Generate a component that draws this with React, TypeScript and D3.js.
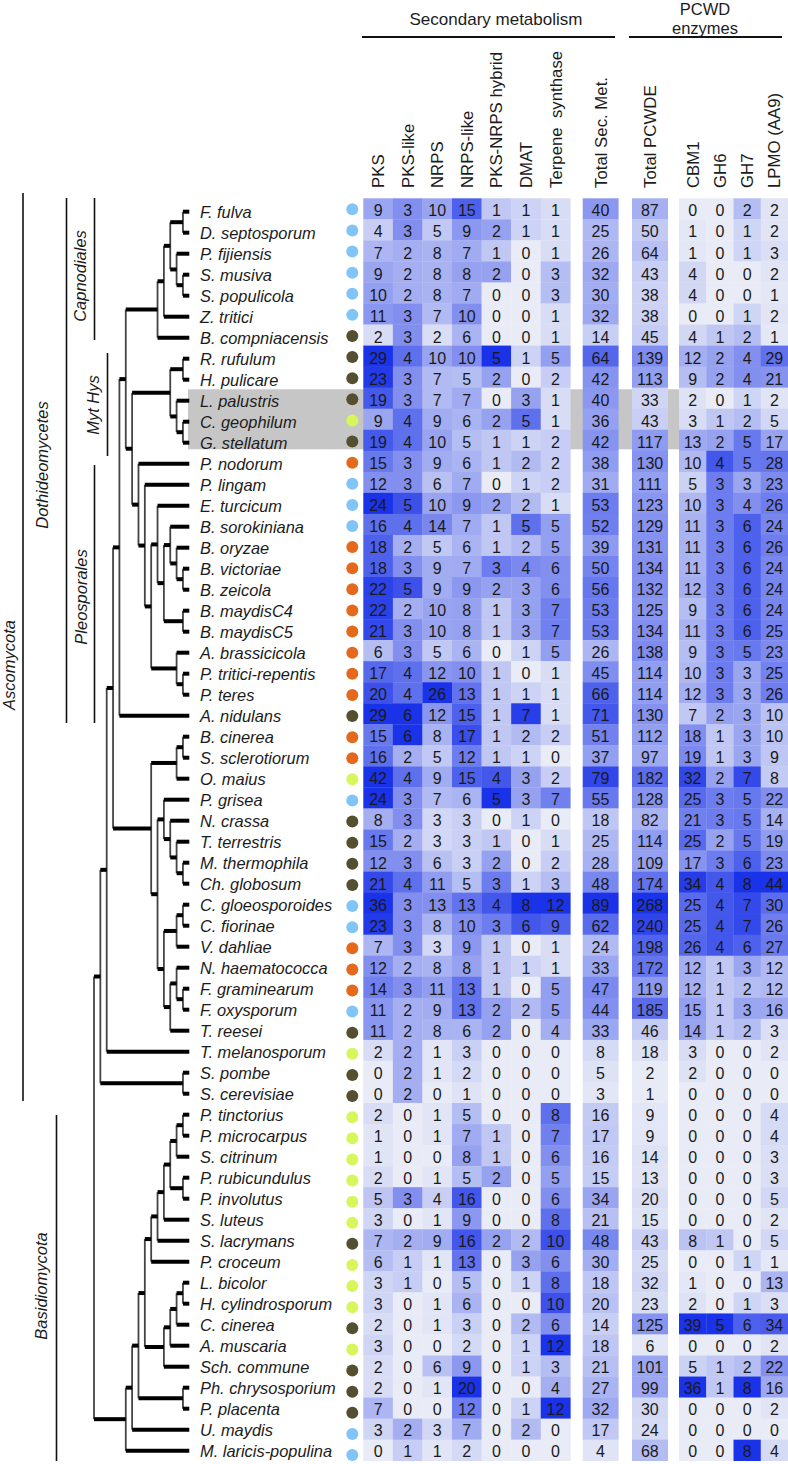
import React from "react";
import * as d3 from "d3";

const species = [
  "F. fulva", "D. septosporum", "P. fijiensis", "S. musiva", "S. populicola", "Z. tritici",
  "B. compniacensis", "R. rufulum", "H. pulicare", "L. palustris", "C. geophilum", "G. stellatum",
  "P. nodorum", "P. lingam", "E. turcicum", "B. sorokiniana", "B. oryzae", "B. victoriae",
  "B. zeicola", "B. maydisC4", "B. maydisC5", "A. brassicicola", "P. tritici-repentis", "P. teres",
  "A. nidulans", "B. cinerea", "S. sclerotiorum", "O. maius", "P. grisea", "N. crassa",
  "T. terrestris", "M. thermophila", "Ch. globosum", "C. gloeosporoides", "C. fiorinae", "V. dahliae",
  "N. haematococca", "F. graminearum", "F. oxysporum", "T. reesei", "T. melanosporum", "S. pombe",
  "S. cerevisiae", "P. tinctorius", "P. microcarpus", "S. citrinum", "P. rubicundulus", "P. involutus",
  "S. luteus", "S. lacrymans", "P. croceum", "L. bicolor", "H. cylindrosporum", "C. cinerea",
  "A. muscaria", "Sch. commune", "Ph. chrysosporium", "P. placenta", "U. maydis", "M. laricis-populina",
];

// b = blue, d = dark, l = lime, o = orange
const lifestyle = "bbbbbbdddd" + "ldobbboooo" + "oooodoolbd" + "dddbbooobd" + "lddlllllld" + "llldldddbb";

// gene counts, one array per column, same order as species
const pks = [9,4,7,9,10,11,2,29,23,19,9,19,15,12,24,16,18,18,22,22,21,6,17,20,29,15,16,42,24,8,15,12,21,36,23,7,12,14,11,11,2,0,0,2,1,1,2,5,3,7,6,3,3,2,3,2,2,7,3,0];
const pksLike = [3,3,2,2,2,3,3,4,3,3,4,4,3,3,5,4,2,3,5,2,3,3,4,4,6,6,2,4,3,3,2,3,4,3,3,3,2,3,2,2,2,2,2,0,0,0,0,3,0,2,1,1,0,0,0,0,0,0,2,1];
const nrps = [10,5,8,8,8,7,2,10,7,7,9,10,9,6,10,14,5,9,9,10,10,5,12,26,12,8,5,9,7,3,3,6,11,13,8,3,8,11,9,8,1,1,0,1,1,0,1,4,1,9,1,0,1,1,0,6,1,0,3,1];
const nrpsLike = [15,9,7,8,7,10,6,10,5,7,6,5,6,7,9,7,6,7,9,8,8,6,10,13,15,17,12,15,6,3,3,3,5,13,10,9,8,13,13,6,3,2,1,5,7,8,5,16,9,16,13,5,6,3,2,9,20,12,7,2];
const hybrid = [1,2,1,2,0,0,0,5,2,0,2,1,1,0,2,1,1,3,2,1,1,0,1,1,1,1,1,4,5,0,1,2,3,4,3,1,1,1,2,2,0,0,0,0,1,1,2,0,0,2,0,0,0,0,0,0,0,0,0,0];
const dmat = [1,1,0,0,0,0,0,1,0,3,5,1,2,1,2,5,2,4,3,3,3,1,0,1,7,2,1,3,3,1,0,0,1,8,6,0,1,0,2,0,0,0,0,0,0,0,0,0,0,2,3,1,0,2,1,1,0,1,2,0];
const terpene = [1,1,1,3,3,1,1,5,2,1,1,2,2,2,1,5,5,6,6,7,7,5,1,1,1,2,0,2,7,0,1,2,3,12,9,1,1,5,5,4,0,0,0,8,7,6,5,6,8,10,6,8,10,6,12,3,4,12,0,0];
const totalSec = [40,25,26,32,30,32,14,64,42,40,36,42,38,31,53,52,39,50,56,53,53,26,45,66,71,51,37,79,55,18,25,28,48,89,62,24,33,47,44,33,8,5,3,16,17,16,15,34,21,48,30,18,20,14,18,21,27,32,17,4];
const totalPcwde = [87,50,64,43,38,38,45,139,113,33,43,117,130,111,123,129,131,134,132,125,134,138,114,114,130,112,97,182,128,82,114,109,174,268,240,198,172,119,185,46,18,2,1,9,9,14,13,20,15,43,25,32,23,125,6,101,99,30,24,68];
const cbm1 = [0,1,1,4,4,0,4,12,9,2,3,13,10,5,10,11,11,11,12,9,11,9,10,12,7,18,19,32,25,21,25,17,34,25,25,26,12,12,15,14,3,2,0,0,0,0,0,0,0,8,0,1,2,39,0,5,36,0,0,0];
const gh6 = [0,0,0,0,0,0,1,2,2,0,1,2,4,3,3,3,3,3,3,3,3,3,3,3,2,1,1,2,3,3,2,3,4,4,4,4,1,1,1,1,0,0,0,0,0,0,0,0,0,1,0,0,0,5,0,1,1,0,0,0];
const gh7 = [2,1,1,0,0,1,2,4,4,1,2,5,5,3,4,6,6,6,6,6,6,5,3,3,3,3,3,7,5,5,5,6,8,7,7,6,3,2,3,2,0,0,0,0,0,0,0,0,0,0,1,0,1,6,0,2,8,0,0,8];
const lpmo = [2,2,3,2,1,2,1,29,21,2,5,17,28,23,26,24,26,24,24,24,25,23,25,26,10,10,9,8,22,14,19,23,44,30,26,27,12,12,16,3,2,0,0,4,4,3,3,5,2,5,1,13,3,34,2,22,16,2,0,4];

const secLabels = ["PKS", "PKS-like", "NRPS", "NRPS-like", "PKS-NRPS hybrid", "DMAT", "Terpene  synthase"];
const pcwdLabels = ["CBM1", "GH6", "GH7", "LPMO (AA9)"];

// value at which each column reaches full colour
const secColumns = [pks, pksLike, nrps, nrpsLike, hybrid, dmat, terpene];
const secFull = [24, 6, 26, 20, 5, 7.5, 12];
const pcwdColumns = [cbm1, gh6, gh7, lpmo];
const pcwdFull = [36, 5, 8, 44];

// tree: [level, child, child], a string is a leaf
const tree: any = [15,
  [14,
    [13,
      [12,
        [11,
          [10,
            [5, [4, [3, [1, "F. fulva", "D. septosporum"], [2, "P. fijiensis", [1, "S. musiva", "S. populicola"]]], "Z. tritici"], "B. compniacensis"],
            [9,
              [3, [1, "R. rufulum", "H. pulicare"], [2, "L. palustris", [1, "C. geophilum", "G. stellatum"]]],
              [8, "P. nodorum", [7, "P. lingam", [6,
                [5, "E. turcicum", [4, [3, "B. sorokiniana", [2, "B. oryzae", [1, "B. victoriae", "B. zeicola"]]], [1, "B. maydisC4", "B. maydisC5"]]],
                [2, "A. brassicicola", [1, "P. tritici-repentis", "P. teres"]],
              ]]],
            ],
          ],
          "A. nidulans",
        ],
        [6,
          [2, [1, "B. cinerea", "S. sclerotiorum"], "O. maius"],
          [5,
            [4, "P. grisea", [3, "N. crassa", [2, "T. terrestris", [1, "M. thermophila", "Ch. globosum"]]]],
            [4, [2, [1, "C. gloeosporoides", "C. fiorinae"], "V. dahliae"], [3, [2, "N. haematococca", [1, "F. graminearum", "F. oxysporum"]], "T. reesei"]],
          ],
        ],
      ],
      "T. melanosporum",
    ],
    [1, "S. pombe", "S. cerevisiae"],
  ],
  [10,
    [9,
      [8,
        [7,
          [6, [5, [4, [3, [2, [1, "P. tinctorius", "P. microcarpus"], "S. citrinum"], [1, "P. rubicundulus", "P. involutus"]], "S. luteus"], "S. lacrymans"], "P. croceum"],
          [4, [3, [2, [1, "L. bicolor", "H. cylindrosporum"], "C. cinerea"], "A. muscaria"], "Sch. commune"],
        ],
        [1, "Ph. chrysosporium", "P. placenta"],
      ],
      "U. maydis",
    ],
    "M. laricis-populina",
  ],
];

const clades = [
  { name: "Ascomycota", x: 23, y0: 193, y1: 1101, tx: 9, ty: 665 },
  { name: "Dothideomycetes", x: 66.5, y0: 198, y1: 723, tx: 42, ty: 465 },
  { name: "Capnodiales", x: 94.5, y0: 198, y1: 340, tx: 80, ty: 276 },
  { name: "Myt Hys", x: 107.5, y0: 353, y1: 456, tx: 93, ty: 405 },
  { name: "Pleosporales", x: 94.5, y0: 465, y1: 723, tx: 81, ty: 597 },
  { name: "Basidiomycota", x: 56.5, y0: 1115, y1: 1461, tx: 41, ty: 1286 },
];

const dotColor: Record<string, string> = { b: "#80c4f8", d: "#544f30", l: "#d6f65c", o: "#e4691c" };
const FONT = "'Liberation Sans', Arial, sans-serif";
const cellColor = d3.interpolateRgb("#e9ecf6", "#1a32e8");

const rowY = d3.scaleBand<string>().domain(species).range([198.3, 1460.7]);
const labelY = d3.scalePoint<string>().domain(species).range([211.7, 1450.7]);
const valueY = d3.scalePoint<string>().domain(species).range([210.7, 1451.7]);
const dotY = d3.scalePoint<string>().domain(species).range([209.3, 1455]);
const levelX = d3.scaleLinear().domain([0, 15]).range([189.3, 94]);

const secX = d3.scaleBand<string>().domain(secLabels).range([363.3, 570.3]);
const totalSecX = d3.scaleBand<string>().domain(["Total Sec. Met."]).range([582.7, 618.3]);
const totalPcwdeX = d3.scaleBand<string>().domain(["Total PCWDE"]).range([632, 667.7]);
const pcwdX = d3.scaleBand<string>().domain(pcwdLabels).range([679, 788]);

const blocks = [
  ...secLabels.map((l, i) => ({ label: l, x: secX, values: secColumns[i], full: secFull[i] })),
  { label: "Total Sec. Met.", x: totalSecX, values: totalSec, full: 89 },
  { label: "Total PCWDE", x: totalPcwdeX, values: totalPcwde, full: 268 },
  ...pcwdLabels.map((l, i) => ({ label: l, x: pcwdX, values: pcwdColumns[i], full: pcwdFull[i] })),
];

const root = d3.hierarchy<any>(tree, (d) => (Array.isArray(d) ? d.slice(1) : null));
const nodeY = new Map<any, number>();
root.eachAfter((n) => {
  if (n.children) {
    nodeY.set(n, (nodeY.get(n.children[0])! + nodeY.get(n.children[n.children.length - 1])!) / 2);
  } else {
    nodeY.set(n, labelY(n.data)!);
  }
});
const nodeX = (n: any) => levelX(n.children ? n.data[0] : 0);

const App = () => {
  const nodes = root.descendants();
  return (
    <svg
      width={788}
      height={1464}
      style={{ position: "absolute", left: 0, top: 0, background: "#fff" }}
      fontFamily={FONT}
    >
      <rect x={188} y={389.3} width={491} height={60} fill="#c6c6c6" />

      {/* clade brackets */}
      {clades.map((c) => (
        <g key={c.name}>
          <line x1={c.x} x2={c.x} y1={c.y0} y2={c.y1} stroke="#111" strokeWidth={1.6} />
          <text
            transform={`translate(${c.tx},${c.ty}) rotate(-90)`}
            textAnchor="middle"
            dy="0.36em"
            fontSize={16.5}
            fontStyle="italic"
            fill="#1c1c1c"
          >
            {c.name}
          </text>
        </g>
      ))}

      {/* tree */}
      {nodes
        .filter((n) => n.children)
        .map((n, i) => (
          <line
            key={i}
            x1={nodeX(n)}
            x2={nodeX(n)}
            y1={nodeY.get(n.children![0])}
            y2={nodeY.get(n.children![n.children!.length - 1])}
            stroke="#444"
            strokeWidth={1.8}
          />
        ))}
      {nodes
        .filter((n) => n.parent)
        .map((n, i) => (
          <line
            key={i}
            x1={nodeX(n.parent)}
            x2={nodeX(n)}
            y1={nodeY.get(n)}
            y2={nodeY.get(n)}
            stroke="#000"
            strokeWidth={4}
          />
        ))}

      {/* species labels and dots */}
      {species.map((s, i) => (
        <g key={s}>
          <text x={200} y={labelY(s)} dy="0.36em" fontSize={16.4} fontStyle="italic" fill="#1c1c1c">
            {s}
          </text>
          <circle cx={352.3} cy={dotY(s)} r={6} fill={dotColor[lifestyle[i]]} />
        </g>
      ))}

      {/* heat map */}
      {blocks.map((b) => {
        const cx = b.x(b.label)! + b.x.bandwidth() / 2;
        return (
          <g key={b.label}>
            {species.map((s, i) => (
              <rect
                key={s}
                x={b.x(b.label)}
                y={rowY(s)}
                width={b.x.bandwidth() + 0.3}
                height={rowY.bandwidth() + 0.3}
                fill={cellColor(Math.min(1, b.values[i] / b.full))}
              />
            ))}
            {species.map((s, i) => (
              <text
                key={s}
                x={cx}
                y={valueY(s)}
                dy="0.36em"
                textAnchor="middle"
                fontSize={16}
                fill="#1a1a1a"
              >
                {b.values[i]}
              </text>
            ))}
            <text
              transform={`translate(${cx + 6},188) rotate(-90)`}
              fontSize={16.8}
              fill="#1c1c1c"
              xmlSpace="preserve"
              style={{ whiteSpace: "pre" }}
            >
              {b.label}
            </text>
          </g>
        );
      })}

      {/* group headers */}
      <line x1={362} x2={615} y1={37} y2={37} stroke="#111" strokeWidth={2} />
      <line x1={629} x2={782} y1={37} y2={37} stroke="#111" strokeWidth={2} />
      <text x={496} y={25} textAnchor="middle" fontSize={17} fill="#1c1c1c">Secondary metabolism</text>
      <text x={705} y={15} textAnchor="middle" fontSize={16.5} fill="#1c1c1c">PCWD</text>
      <text x={705} y={34} textAnchor="middle" fontSize={16.5} fill="#1c1c1c">enzymes</text>
    </svg>
  );
};

export default App;
